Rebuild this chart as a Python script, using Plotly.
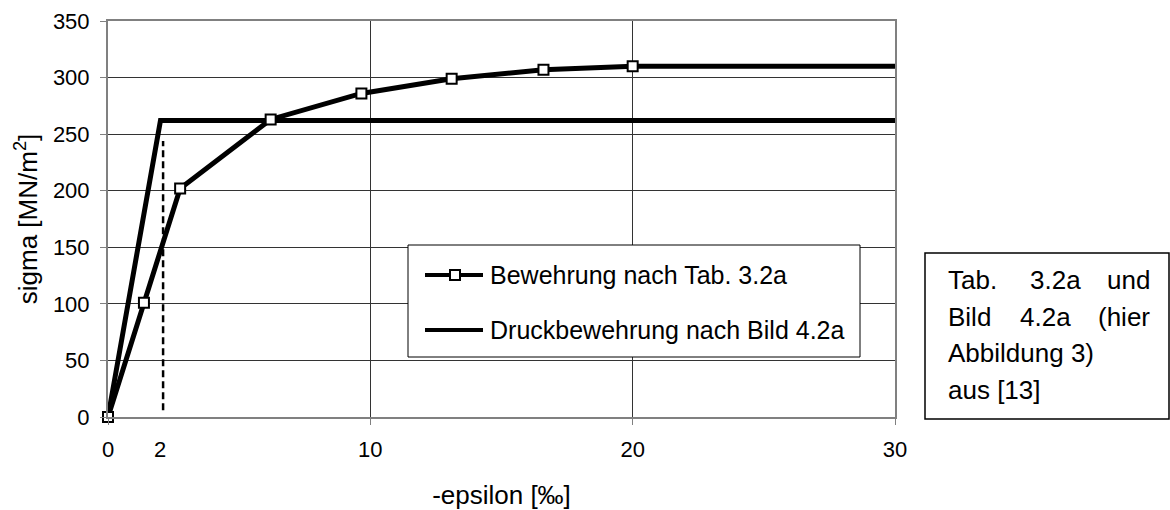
import plotly.graph_objects as go

# Stress-strain data (epsilon in per mille, sigma in MN/m^2)
eps_tab = [0, 1.37, 2.75, 6.2, 9.66, 13.1, 16.6, 20.0]
sig_tab = [0, 101, 202, 263, 286, 299, 307, 310]
eps_end = 30

eps_druck = [0, 2.0, 30]
sig_druck = [0, 262, 262]

eps_yield = [2.1, 2.1]
sig_yield = [6, 244]

x_ticks = [0, 10, 20, 30]
y_ticks = [0, 50, 100, 150, 200, 250, 300, 350]

W, H = 1170, 510
L, R, T, B = 108, 895, 21, 417  # plot area in pixels
FONT = "Liberation Sans, Arial, sans-serif"


def px(x):
    return (x - L) / (R - L)


def py(y):
    return (B - y) / (B - T)


fig = go.Figure()

fig.add_trace(go.Scatter(
    x=eps_druck, y=sig_druck, mode="lines",
    line=dict(color="black", width=5), showlegend=False,
))
fig.add_trace(go.Scatter(
    x=eps_yield, y=sig_yield, mode="lines",
    line=dict(color="black", width=2.5, dash="7px,4px"), showlegend=False,
))
fig.add_trace(go.Scatter(
    x=eps_tab + [eps_end], y=sig_tab + [sig_tab[-1]], mode="lines",
    line=dict(color="black", width=5), showlegend=False,
))
fig.add_trace(go.Scatter(
    x=eps_tab, y=sig_tab, mode="markers",
    marker=dict(symbol="square", size=10, color="white",
                line=dict(color="black", width=2)),
    showlegend=False, cliponaxis=False,
))

axis_common = dict(
    showgrid=True, gridcolor="#333333", gridwidth=1,
    showline=True, linecolor="#808080", linewidth=2, mirror=True,
    ticks="outside", ticklen=6, tickcolor="#808080", tickwidth=1,
    zeroline=False, tickfont=dict(family=FONT, size=22, color="black"),
)

fig.update_xaxes(
    range=[0, 30], tickvals=x_ticks, ticklabelstandoff=6,
    title=dict(text="-epsilon [‰]", font=dict(family=FONT, size=26, color="black"),
               standoff=26),
    **axis_common,
)
fig.update_yaxes(
    range=[0, 350], tickvals=y_ticks, ticklabelstandoff=6,
    title=dict(text="sigma [MN/m<sup>2</sup>]",
               font=dict(family=FONT, size=26, color="black"), standoff=8),
    **axis_common,
)

shapes = []
annotations = []

# Extra label for the yield strain
annotations.append(dict(
    x=2, xref="x", y=py(450), yref="paper", text="2", showarrow=False,
    font=dict(family=FONT, size=22, color="black"), xanchor="center", yanchor="middle",
))

# Legend box
shapes.append(dict(type="rect", xref="paper", yref="paper",
                   x0=px(408), x1=px(860), y0=py(357), y1=py(245),
                   line=dict(color="black", width=1), fillcolor="white", layer="above"))
legend_rows = [("Bewehrung nach Tab. 3.2a", 275, True),
               ("Druckbewehrung nach Bild 4.2a", 330, False)]
for label, yc, with_marker in legend_rows:
    shapes.append(dict(type="line", xref="paper", yref="paper",
                       x0=px(425), x1=px(483), y0=py(yc), y1=py(yc),
                       line=dict(color="black", width=4), layer="above"))
    if with_marker:
        shapes.append(dict(type="rect", xref="paper", yref="paper",
                           x0=px(450), x1=px(460), y0=py(yc + 5), y1=py(yc - 5),
                           line=dict(color="black", width=2), fillcolor="white",
                           layer="above"))
    annotations.append(dict(
        x=px(488), xref="paper", y=py(yc), yref="paper", text=label,
        showarrow=False, xanchor="left", yanchor="middle",
        font=dict(family=FONT, size=25, color="black"),
    ))

# Source note box
shapes.append(dict(type="rect", xref="paper", yref="paper",
                   x0=px(925), x1=px(1169), y0=py(419), y1=py(253),
                   line=dict(color="black", width=1.5), fillcolor="white"))
note_words = [
    ("Tab.", 946, 280, "left"), ("3.2a", 1028, 280, "left"), ("und", 1152, 280, "right"),
    ("Bild", 946, 317, "left"), ("4.2a", 1018, 317, "left"), ("(hier", 1152, 317, "right"),
    ("Abbildung 3)", 946, 353, "left"),
    ("aus [13]", 946, 390, "left"),
]
for word, xw, yw, anchor in note_words:
    annotations.append(dict(
        x=px(xw), xref="paper", y=py(yw), yref="paper", text=word,
        showarrow=False, xanchor=anchor, yanchor="middle",
        font=dict(family=FONT, size=26, color="black"),
    ))

fig.update_layout(
    width=W, height=H,
    margin=dict(l=L, r=W - R, t=T, b=H - B, autoexpand=False),
    paper_bgcolor="white", plot_bgcolor="white",
    shapes=shapes, annotations=annotations,
    showlegend=False,
    font=dict(family=FONT, color="black"),
)

fig.write_html("out.html")
